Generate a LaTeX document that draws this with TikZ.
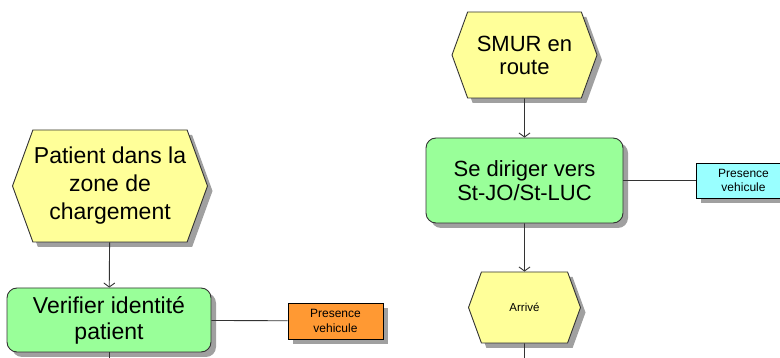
\documentclass[tikz,border=0pt]{standalone}
\usepackage{fontspec}
\setmainfont{Liberation Sans}
\usepackage{tikz}
\usetikzlibrary{shapes.symbols, shadows, arrows.meta}
\definecolor{evtyellow}{RGB}{255,255,153}
\definecolor{funcgreen}{RGB}{153,255,153}
\definecolor{resorange}{RGB}{255,153,51}
\definecolor{rescyan}{RGB}{153,255,255}
\definecolor{shadowgray}{RGB}{160,160,160}
\tikzset{
>={Straight Barb[length=4pt,width=11pt]}, % open arrow heads
every edge/.style={draw=black!80, line width=0.9pt}, % connectors
boxshadow/.style={drop shadow={shadow xshift=5pt, shadow yshift=-5pt, fill=shadowgray, opacity=1}},
event/.style={signal, signal to=west and east, signal pointer angle=140, draw=black!80, line width=0.9pt, fill=evtyellow, inner sep=0pt, align=center, boxshadow}, % yellow hexagons
function/.style={rectangle, rounded corners=10pt, draw=black!80, line width=0.9pt, fill=funcgreen, inner sep=0pt, align=center, boxshadow}, % green tasks
resource/.style={rectangle, draw=black, line width=0.9pt, inner sep=0pt, align=center, minimum width=95pt, minimum height=36pt, font=\fontsize{12}{14.5}\selectfont, boxshadow}, % small boxes
}
\begin{document}
\begin{tikzpicture}[x=1pt, y=-1pt]
            \useasboundingbox (0,0) rectangle (780,358);

            % left column
            \node[event, minimum width=195pt, minimum height=112pt, font=\fontsize{23}{28}\selectfont] (patient) at (110,186) {Patient dans la\\zone de\\chargement};
            \node[function, minimum width=204pt, minimum height=64pt, font=\fontsize{23}{26}\selectfont] (verifier) at (109,320) {Verifier identité\\patient};
            \node[resource, fill=resorange] (presa) at (335.5,321) {Presence\\vehicule};
            \coordinate (enda) at (109,360);

            % right column
            \node[event, minimum width=145pt, minimum height=86pt, font=\fontsize{22}{23}\selectfont] (smur) at (524.5,55) {SMUR en\\route};
            \node[function, minimum width=197pt, minimum height=85pt, font=\fontsize{22}{24}\selectfont] (diriger) at (524.5,180.5) {Se diriger vers\\St-JO/St-LUC};
            \node[resource, fill=rescyan, minimum height=35pt] (presb) at (743.5,180.5) {Presence\\vehicule};
            \node[event, minimum width=112pt, minimum height=71pt, font=\fontsize{11.5}{13}\selectfont] (arrive) at (524.5,307.5) {Arrivé};
            \coordinate (endb) at (524.5,360);

            \draw   (patient) edge[->] (verifier);
            \draw   (verifier) edge (presa);
            \draw   (verifier) edge (enda);

            \draw   (smur) edge[->] (diriger);
            \draw   (diriger) edge (presb);
            \draw   (diriger) edge[->] (arrive);
            \draw   (arrive) edge (endb);
\end{tikzpicture}
\end{document}
